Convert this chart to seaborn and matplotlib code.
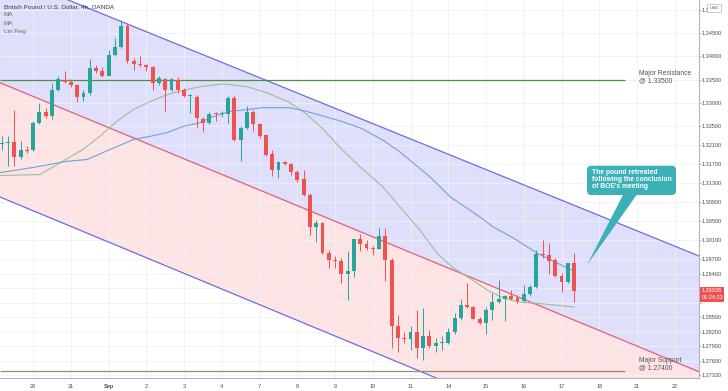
import numpy as np
import pandas as pd
import seaborn as sns
import matplotlib.pyplot as plt
from matplotlib.patches import FancyBboxPatch, Rectangle, Polygon
from matplotlib.ticker import FixedLocator, FuncFormatter, NullLocator, NullFormatter

### velas de 4h GBP/USD (open, high, low, close)
opens = [1.3213, 1.3214, 1.3217, 1.3185, 1.3201, 1.3199, 1.3258, 1.3281, 1.3272, 1.3327,
         1.3350, 1.3346, 1.3338, 1.3314, 1.3322, 1.3376, 1.3368, 1.3359, 1.3403, 1.3420,
         1.3466, 1.3391, 1.3384, 1.3382, 1.3378, 1.3343, 1.3352, 1.3329, 1.3350, 1.3329,
         1.3315, 1.3314, 1.3265, 1.3258, 1.3278, 1.3276, 1.3277, 1.3311, 1.3222, 1.3246,
         1.3281, 1.3256, 1.3231, 1.3192, 1.3158, 1.3174, 1.3170, 1.3153, 1.3139, 1.3105,
         1.3038, 1.3045, 1.2983, 1.2969, 1.2967, 1.2940, 1.2945, 1.3012, 1.3001, 1.2994,
         1.2992, 1.3018, 1.2969, 1.2832, 1.2808, 1.2805, 1.2820, 1.2786, 1.2811, 1.2790,
         1.2797, 1.2797, 1.2820, 1.2848, 1.2876, 1.2871, 1.2847, 1.2837, 1.2864, 1.2882,
         1.2887, 1.2894, 1.2890, 1.2884, 1.2898, 1.2912, 1.2982, 1.2979, 1.2969, 1.2935,
         1.2923, 1.2962]
highs = [1.3229, 1.3229, 1.3286, 1.3219, 1.3208, 1.3261, 1.3300, 1.3290, 1.3343, 1.3357,
         1.3368, 1.3351, 1.3341, 1.3329, 1.3394, 1.3382, 1.3378, 1.3414, 1.3439, 1.3478,
         1.3471, 1.3396, 1.3400, 1.3384, 1.3379, 1.3358, 1.3353, 1.3353, 1.3356, 1.3332,
         1.3320, 1.3318, 1.3270, 1.3280, 1.3281, 1.3284, 1.3316, 1.3318, 1.3251, 1.3293,
         1.3285, 1.3258, 1.3233, 1.3201, 1.3176, 1.3176, 1.3173, 1.3158, 1.3158, 1.3109,
         1.3052, 1.3048, 1.2990, 1.2976, 1.2972, 1.2987, 1.3013, 1.3023, 1.3010, 1.2997,
         1.3035, 1.3035, 1.2972, 1.2855, 1.2820, 1.2831, 1.2865, 1.2869, 1.2824, 1.2806,
         1.2811, 1.2827, 1.2858, 1.2887, 1.2920, 1.2873, 1.2851, 1.2871, 1.2900, 1.2927,
         1.2896, 1.2907, 1.2896, 1.2917, 1.2917, 1.2990, 1.3011, 1.3004, 1.2972, 1.2941,
         1.2963, 1.2984]
lows = [1.3201, 1.3166, 1.3166, 1.3180, 1.3194, 1.3197, 1.3256, 1.3268, 1.3265, 1.3325,
        1.3343, 1.3334, 1.3302, 1.3304, 1.3318, 1.3364, 1.3356, 1.3357, 1.3401, 1.3418,
        1.3386, 1.3370, 1.3378, 1.3368, 1.3327, 1.3339, 1.3283, 1.3325, 1.3322, 1.3313,
        1.3279, 1.3247, 1.3238, 1.3255, 1.3261, 1.3270, 1.3257, 1.3220, 1.3176, 1.3244,
        1.3240, 1.3226, 1.3187, 1.3144, 1.3141, 1.3169, 1.3148, 1.3133, 1.3102, 1.3021,
        1.3007, 1.2982, 1.2951, 1.2951, 1.2920, 1.2886, 1.2934, 1.2987, 1.2990, 1.2979,
        1.2991, 1.2924, 1.2786, 1.2779, 1.2797, 1.2783, 1.2765, 1.2762, 1.2787, 1.2779,
        1.2782, 1.2795, 1.2816, 1.2844, 1.2868, 1.2846, 1.2835, 1.2816, 1.2844, 1.2880,
        1.2843, 1.2886, 1.2879, 1.2882, 1.2893, 1.2911, 1.2972, 1.2940, 1.2934, 1.2902,
        1.2920, 1.2882]
closes = [1.3215, 1.3218, 1.3185, 1.3201, 1.3197, 1.3258, 1.3281, 1.3272, 1.3327, 1.3351,
          1.3346, 1.3338, 1.3314, 1.3322, 1.3376, 1.3368, 1.3359, 1.3403, 1.3420, 1.3466,
          1.3390, 1.3383, 1.3381, 1.3378, 1.3343, 1.3354, 1.3329, 1.3352, 1.3329, 1.3316,
          1.3317, 1.3268, 1.3258, 1.3276, 1.3276, 1.3278, 1.3311, 1.3222, 1.3246, 1.3281,
          1.3256, 1.3229, 1.3190, 1.3158, 1.3174, 1.3170, 1.3153, 1.3137, 1.3105, 1.3038,
          1.3045, 1.2983, 1.2969, 1.2967, 1.2940, 1.2945, 1.3012, 1.3001, 1.2994, 1.2992,
          1.3018, 1.2969, 1.2832, 1.2808, 1.2805, 1.2820, 1.2786, 1.2811, 1.2790, 1.2797,
          1.2799, 1.2820, 1.2848, 1.2876, 1.2871, 1.2847, 1.2837, 1.2864, 1.2882, 1.2887,
          1.2894, 1.2888, 1.2884, 1.2898, 1.2912, 1.2981, 1.2979, 1.2967, 1.2935, 1.2923,
          1.2962, 1.29038]

### eixo x: posicao (indice da vela) do inicio de cada dia
day_ticks = [5, 11, 17, 23, 29, 35, 41, 47, 53, 59, 65, 71, 77, 83, 89, 95, 101, 107]
day_labels = ["28", "31", "Sep", "2", "3", "4", "7", "8", "9", "10", "11",
              "14", "15", "16", "17", "18", "21", "22"]

### eixo y (escala log do tradingview)
price_ticks = [1.35, 1.345, 1.34, 1.335, 1.33, 1.325, 1.321, 1.317, 1.313, 1.309,
               1.305, 1.301, 1.297, 1.294, 1.291, 1.288, 1.285, 1.282, 1.279, 1.276, 1.2732]

### medias moveis
ma_fast_x = [-0.3, 6.1, 9.3, 12.9, 15.6, 18.3, 20.9, 23.6, 26.3, 28.8, 31.5, 35.2, 39.0,
             42.2, 45.8, 48.5, 51.1, 53.8, 57.0, 60.6, 63.3, 66.5, 69.2, 71.8, 74.4,
             77.2, 79.7, 82.4, 86.4, 91.0]
ma_fast_y = [1.3146, 1.3148, 1.3173, 1.3201, 1.3229, 1.3261, 1.3286, 1.3303, 1.3318,
             1.3327, 1.3335, 1.3341, 1.3335, 1.3322, 1.3301, 1.3276, 1.3244, 1.3205,
             1.3164, 1.3122, 1.3080, 1.3031, 1.2983, 1.2952, 1.2931, 1.2906, 1.2890,
             1.2881, 1.2877, 1.2871]
ma_slow_x = [-0.3, 5.0, 10.4, 13.6, 17.2, 20.9, 23.6, 26.3, 28.8, 31.5, 33.6, 36.3, 41.5,
             45.8, 48.5, 53.8, 57.0, 60.6, 63.3, 68.1, 71.3, 76.0, 78.1, 81.3, 85.1,
             89.9, 91.0]
ma_slow_y = [1.3152, 1.3163, 1.3176, 1.3180, 1.3201, 1.3222, 1.3229, 1.3237, 1.3250,
             1.3258, 1.3271, 1.3282, 1.3290, 1.3290, 1.3282, 1.3262, 1.3247, 1.3221,
             1.3196, 1.3143, 1.3101, 1.3059, 1.3038, 1.3015, 1.2983, 1.2952, 1.2946]

### canal de regressao linear (extremos)
channel_x = [-0.27, 110.86]
channel_upper = [1.35825, 1.29770]
channel_mid = [1.33436, 1.27378]
channel_lower = [1.31006, 1.25039]

resistance = 1.335
support = 1.274
last_price = 1.29038
timer = "01:24:23"

df = pd.DataFrame({"open": opens, "high": highs, "low": lows, "close": closes})
df["x"] = np.arange(len(df))
df["up"] = df["close"] >= df["open"]

W, H = 728, 391
def fx(px):
    return px / W
def fy(py):
    return 1 - py / H

def price_label(v, pos):
    ### rotulos escondidos atras da etiqueta do ultimo preco
    if abs(v - last_price) < 0.0025:
        return ""
    return f"{v:.5f}"

sns.set_style("white")
plt.rcParams["font.family"] = ["Liberation Sans", "DejaVu Sans"]

fig = plt.figure(figsize=(W / 100, H / 100), dpi=100)
ax = fig.add_axes([0, fy(378.3), fx(699), 378.3 / H])
ax.set_yscale("log")

### faixas do canal
ax.fill_between(channel_x, channel_mid, channel_upper, color="#dfdffb", lw=0, zorder=0.2)
ax.fill_between(channel_x, channel_lower, channel_mid, color="#fde3e3", lw=0, zorder=0.2)
ax.plot(channel_x, channel_upper, color="#6d6ddf", lw=0.9, zorder=2)
ax.plot(channel_x, channel_lower, color="#6d6ddf", lw=0.9, zorder=2)
ax.plot(channel_x, channel_mid, color="#e35d7f", lw=0.9, zorder=2)

### suporte e resistencia
ax.hlines(resistance, channel_x[0], 99.1, color="#4f8f46", lw=0.9, zorder=2)
ax.hlines(support, channel_x[0], 99.1, color="#8f9268", lw=0.9, zorder=2)
ax.text(101.3, 1.33558, "Major Resistance\n@ 1.33500", fontsize=4.85, color="#555555",
        va="center", ha="left", linespacing=0.95)
ax.text(101.3, 1.27535, "Major Support\n@ 1.27400", fontsize=4.85, color="#555555",
        va="center", ha="left", linespacing=0.95)

### medias moveis
sns.lineplot(x=ma_fast_x, y=ma_fast_y, ax=ax, color="#9dbd9a", lw=0.8, zorder=2.5)
sns.lineplot(x=ma_slow_x, y=ma_slow_y, ax=ax, color="#6fa2da", lw=0.8, zorder=2.5)

### velas
colors = np.where(df["up"], "#26a69a", "#ef5350")
ax.vlines(df["x"], df["low"], df["high"], colors=colors, lw=0.7, zorder=3)
body_low = np.minimum(df["open"], df["close"])
body_h = np.maximum((df["close"] - df["open"]).abs(), 0.00006)
ax.bar(df["x"], body_h, bottom=body_low, width=0.62, color=colors, lw=0, zorder=4)

### eixos
ax.set_xlim(channel_x[0], channel_x[1])
ax.set_ylim(1.27243, 1.35222)
ax.yaxis.tick_right()
ax.yaxis.set_major_locator(FixedLocator(price_ticks))
ax.yaxis.set_major_formatter(FuncFormatter(price_label))
ax.yaxis.set_minor_locator(NullLocator())
ax.yaxis.set_minor_formatter(NullFormatter())
ax.set_xticks(day_ticks)
ax.set_xticklabels(day_labels)
ax.get_xticklabels()[2].set_fontweight("bold")
ax.tick_params(axis="y", length=1.2, width=0.5, color="#9598a1", labelsize=4.0,
               labelcolor="#4a4a4a", pad=0.8)
ax.tick_params(axis="x", length=0, labelsize=4.0, labelcolor="#4a4a4a", pad=4)
ax.grid(True, color="#eef1f6", lw=0.6)
ax.set_axisbelow(True)
for s in ["top", "left"]:
    ax.spines[s].set_visible(False)
for s in ["right", "bottom"]:
    ax.spines[s].set_color("#b2b5be")
    ax.spines[s].set_linewidth(0.8)

### legenda no canto
fig.text(fx(4), fy(6.7), "British Pound / U.S. Dollar, 4h, OANDA", fontsize=4.6,
         color="#3b3b3b", va="center")
for txt, py in [("MA", 15), ("MA", 23.3), ("Lin Reg", 31.7)]:
    fig.text(fx(4), fy(py), txt, fontsize=4.6, color="#6a6a6a", va="center")

### caixa USD
fig.patches.append(Rectangle((fx(707), fy(11.5)), fx(14), 7.5 / H, transform=fig.transFigure,
                             fc="white", ec="#b2b5be", lw=0.5, zorder=5))
fig.text(fx(714), fy(7.7), "USD", fontsize=3.2, color="#555555", ha="center", va="center",
         zorder=6)

### etiqueta do ultimo preco
fig.patches.append(Rectangle((fx(700), fy(302)), fx(23.6), 15 / H, transform=fig.transFigure,
                             fc="#ef5350", ec="none", zorder=5))
fig.text(fx(702), fy(290.7), f"{last_price:.5f}", fontsize=4.0, color="white", va="center",
         zorder=6)
fig.text(fx(702), fy(297.3), timer, fontsize=4.0, color="white", va="center", zorder=6)

### balao de comentario
teal = "#3bb0b6"
fig.patches.append(Polygon([(fx(624), fy(193)), (fx(638), fy(193)), (fx(587), fy(265))],
                           closed=True, transform=fig.transFigure, fc=teal, ec="none", zorder=5))
fig.patches.append(FancyBboxPatch((fx(587), fy(195)), fx(89), 29.3 / H,
                                  boxstyle="round,pad=0,rounding_size=0.006",
                                  mutation_aspect=W / H, transform=fig.transFigure,
                                  fc=teal, ec="none", zorder=5))
fig.text(fx(591.7), fy(180), "The pound retreated\nfollowing the conclusion\nof BOE's meeting",
         fontsize=4.9, fontweight="bold", color="white", va="center", ha="left",
         linespacing=1.0, zorder=6)

fig.savefig("out.png", dpi=100)
